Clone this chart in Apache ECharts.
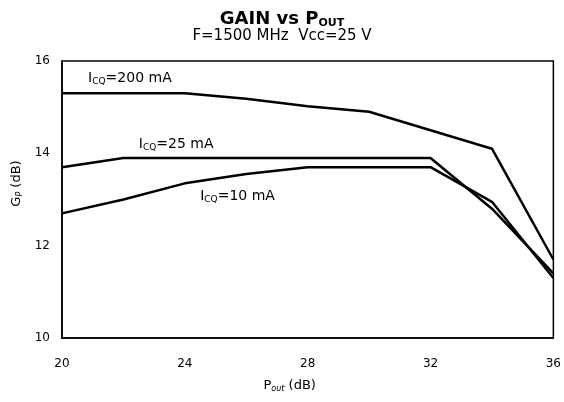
<!DOCTYPE html>
<html lang="en">
<head>
    <meta charset="UTF-8">
    <title>GAIN vs POUT</title>
    <script src="https://cdn.jsdelivr.net/npm/echarts@6/dist/echarts.min.js"></script>
</head>
<body style="margin:0;">
<div id="main" style="width: 564px;height:402px;"></div>
<script>
    // P_out (dB) values and gain curves for each quiescent current
    var pout = [20, 22, 24, 26, 28, 30, 32, 34, 36];
    var g200 = [15.3, 15.3, 15.3, 15.18, 15.02, 14.9, 14.5, 14.1, 11.7];
    var g25 = [13.7, 13.9, 13.9, 13.9, 13.9, 13.9, 13.9, 12.8, 11.4];
    var g10 = [12.7, 13.0, 13.35, 13.55, 13.7, 13.7, 13.7, 12.95, 11.3];
    var curveNames = ['200', '25', '10'];
    // where the curve labels sit, in data units
    var labelPos = [[20.85, 15.62], [22.5, 14.2], [24.5, 13.07]];

    var font = 'DejaVu Sans, sans-serif';
    var subRich = {
        a: {fontFamily: font, fontSize: 14, color: '#000'},
        s: {fontFamily: font, fontSize: 9, color: '#000', padding: [7, 0, 0, 0]}
    };
    var axisRich = {
        a: {fontFamily: font, fontSize: 13, color: '#000'},
        s: {fontFamily: font, fontSize: 8, fontStyle: 'italic', color: '#000', padding: [7, 0, 0, 0]}
    };

    function pairs(ys) {
        var res = [];
        for (var i = 0; i < pout.length; i++) {
            res.push([pout[i], ys[i]]);
        }
        return res;
    }

    function makeSeries(name, ys, pos) {
        return {
            name: name,
            type: 'line',
            data: pairs(ys),
            symbol: 'none',
            lineStyle: {color: '#000', width: 2.5},
            markPoint: {
                symbol: 'circle',
                symbolSize: 0,
                data: [{coord: pos}],
                label: {
                    show: true,
                    position: 'right',
                    distance: 0,
                    formatter: '{a|I}{s|CQ}{a|=' + name + ' mA}',
                    rich: subRich
                }
            }
        };
    }

    var myChart = echarts.init(document.getElementById('main'));
    var option = {
        backgroundColor: '#fff',
        animation: false,
        title: {
            left: 'center',
            top: 4,
            itemGap: 1,
            text: '{t|GAIN vs P}{s|OUT}',
            textStyle: {
                rich: {
                    t: {fontFamily: font, fontSize: 18, fontWeight: 'bold', color: '#000'},
                    s: {fontFamily: font, fontSize: 11, fontWeight: 'bold', color: '#000', padding: [9, 0, 0, 0]}
                }
            },
            subtext: 'F=1500 MHz  Vcc=25 V',
            subtextStyle: {fontFamily: font, fontSize: 15, color: '#000'}
        },
        grid: {
            left: 62,
            right: 9,
            top: 61,
            bottom: 64,
            show: true,
            borderColor: '#000',
            borderWidth: 1.5
        },
        xAxis: {
            type: 'value',
            min: 20,
            max: 36,
            interval: 4,
            name: '{a|P}{s|out}{a| (dB)}',
            nameLocation: 'middle',
            nameGap: 40,
            nameTextStyle: {rich: axisRich, padding: [0, 36, 0, 0]},
            axisLine: {lineStyle: {color: '#000', width: 1.5}},
            axisTick: {show: false},
            splitLine: {show: false},
            axisLabel: {margin: 20, fontFamily: font, fontSize: 12, color: '#000'}
        },
        yAxis: {
            type: 'value',
            min: 10,
            max: 16,
            interval: 2,
            name: '{a|G}{s|P}{a| (dB)}',
            nameLocation: 'middle',
            nameGap: 38,
            nameTextStyle: {rich: axisRich, padding: [0, 0, 0, 32]},
            axisLine: {lineStyle: {color: '#000', width: 1.5}},
            axisTick: {show: false},
            splitLine: {show: false},
            axisLabel: {margin: 12, fontFamily: font, fontSize: 12, color: '#000'}
        },
        series: [
            makeSeries(curveNames[0], g200, labelPos[0]),
            makeSeries(curveNames[1], g25, labelPos[1]),
            makeSeries(curveNames[2], g10, labelPos[2])
        ]
    };
    myChart.setOption(option);
</script>
</body>
</html>
